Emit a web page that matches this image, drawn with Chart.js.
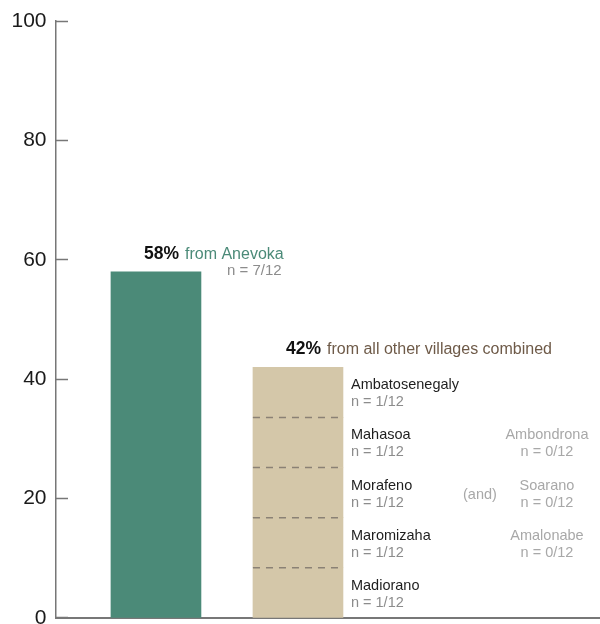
<!DOCTYPE html>
<html>
<head>
<meta charset="utf-8">
<script src="https://cdn.jsdelivr.net/npm/chart.js@4/dist/chart.umd.min.js"></script>
<style>
  html, body { margin: 0; padding: 0; overflow: hidden; background: #fff; }
  #wrap { width: 600px; height: 665px; position: relative; top: -13.5px; }
</style>
</head>
<body>
<div id="wrap"><canvas id="chart"></canvas></div>
<script>
// Share of the 12 respondents by village
const groupPos = [1, 2];
const anevokaPct = [58];
const anevokaCount = 'n = 7/12';
const otherVillages = ['Madiorano', 'Maromizaha', 'Morafeno', 'Mahasoa', 'Ambatosenegaly'];
const otherPct = [8.4, 8.4, 8.4, 8.4, 8.4];
const otherCounts = ['n = 1/12', 'n = 1/12', 'n = 1/12', 'n = 1/12', 'n = 1/12'];
// villages with nobody, shown next to rows 1..3 of the stack (bottom = 0)
const zeroVillages = ['Amalonabe', 'Soarano', 'Ambondrona'];
const zeroCounts = ['n = 0/12', 'n = 0/12', 'n = 0/12'];
const zeroRows = [1, 2, 3];
const anevokaHead = ['58%', 'from Anevoka'];
const otherHead = ['42%', 'from all other villages combined'];

const GREEN = '#4b8a78';
const TAN = '#d4c7a9';
const FONT = '"Liberation Sans", Arial, sans-serif';

const datasets = [{
    label: 'Anevoka',
    data: [{ x: groupPos[0], y: anevokaPct[0] }],
    backgroundColor: GREEN,
    barThickness: 90
}];
otherVillages.forEach((name, i) => {
    datasets.push({
        label: name,
        data: [{ x: groupPos[1], y: otherPct[i] }],
        backgroundColor: TAN,
        barThickness: 90
    });
});

const annotate = {
    id: 'annotate',
    afterDatasetsDraw(chart) {
        const ctx = chart.ctx;
        ctx.save();
        ctx.textBaseline = 'alphabetic';

        // header over a bar: bold percentage + coloured text
        function header(bar, parts, color) {
            const x0 = bar.x - bar.width / 2 + 33;
            const y = bar.y - 13;
            ctx.textAlign = 'left';
            ctx.font = 'bold 17.5px ' + FONT;
            ctx.fillStyle = '#111';
            ctx.fillText(parts[0], x0, y);
            const w0 = ctx.measureText(parts[0]).width;
            ctx.font = '16px ' + FONT;
            ctx.fillStyle = color;
            ctx.fillText(parts[1], x0 + w0 + 6, y);
            return x0 + w0 + 6 + ctx.measureText(parts[1]).width;
        }

        const bar1 = chart.getDatasetMeta(0).data[0];
        const end1 = header(bar1, anevokaHead, GREEN);
        ctx.font = '15px ' + FONT;
        ctx.fillStyle = '#8c8c8c';
        ctx.textAlign = 'right';
        ctx.fillText(anevokaCount, end1 - 2, bar1.y + 3);

        const segs = otherVillages.map((_, i) => chart.getDatasetMeta(i + 1).data[0]);
        header(segs[segs.length - 1], otherHead, '#6e5a48');

        // dashed dividers between stacked segments
        ctx.strokeStyle = '#8a8175';
        ctx.lineWidth = 1.5;
        ctx.setLineDash([7, 6]);
        segs.slice(0, -1).forEach(s => {
            ctx.beginPath();
            ctx.moveTo(s.x - s.width / 2, s.y);
            ctx.lineTo(s.x + s.width / 2, s.y);
            ctx.stroke();
        });
        ctx.setLineDash([]);

        // village names beside each segment
        segs.forEach((s, i) => {
            const lx = s.x + s.width / 2 + 8;
            ctx.textAlign = 'left';
            ctx.font = '14.5px ' + FONT;
            ctx.fillStyle = '#1e1e1e';
            ctx.fillText(otherVillages[i], lx, s.y + 22);
            ctx.fillStyle = '#8c8c8c';
            ctx.fillText(otherCounts[i], lx, s.y + 39);
        });

        // villages with zero respondents
        const cx = s => s.x + 249;
        zeroVillages.forEach((name, k) => {
            const s = segs[zeroRows[k]];
            ctx.textAlign = 'center';
            ctx.font = '14.5px ' + FONT;
            ctx.fillStyle = '#a8a8a8';
            ctx.fillText(name, cx(s), s.y + 22);
            ctx.fillText(zeroCounts[k], cx(s), s.y + 39);
        });
        const mid = segs[zeroRows[1]];
        ctx.textAlign = 'center';
        ctx.fillStyle = '#a8a8a8';
        ctx.fillText('(and)', mid.x + 182, mid.y + 31);

        ctx.restore();
    }
};

new Chart(document.getElementById('chart'), {
    type: 'bar',
    data: { datasets: datasets },
    options: {
        responsive: true,
        maintainAspectRatio: false,
        animation: false,
        layout: { padding: { top: 8, left: 10.5, right: 0, bottom: 0 } },
        plugins: {
            legend: { display: false },
            tooltip: { enabled: false }
        },
        scales: {
            x: {
                type: 'linear',
                stacked: true,
                offset: false,
                min: 0.296,
                max: 4.127,
                grid: { display: false },
                ticks: { display: false },
                border: { display: true, color: '#777', width: 2 }
            },
            y: {
                stacked: true,
                min: 0,
                max: 100,
                afterFit: (scale) => { scale.width = 45.5; },
                ticks: {
                    stepSize: 20,
                    color: '#1a1a1a',
                    padding: 21.5,
                    font: { family: FONT, size: 21 }
                },
                grid: {
                    display: true,
                    drawOnChartArea: false,
                    drawTicks: true,
                    tickLength: -12,
                    tickWidth: 1.5,
                    tickColor: '#777'
                },
                border: { display: true, color: '#777', width: 1.5 }
            }
        }
    },
    plugins: [annotate]
});
</script>
</body>
</html>
